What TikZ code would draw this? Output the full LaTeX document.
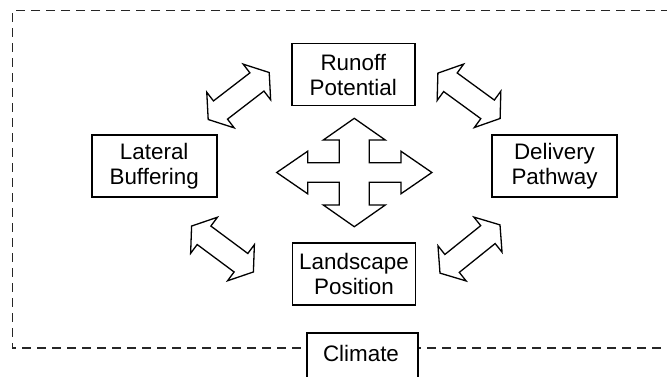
\documentclass[tikz,border=0pt]{standalone}
\usepackage{fontspec}
\setmainfont{Liberation Sans}
\tikzset{
  box/.style={draw, line width=1.8pt, minimum width=123pt, minimum height=62pt,
    align=center, inner sep=0pt, fill=white, font=\fontsize{22.4}{25}\selectfont},
  label text/.style={inner sep=0pt, font=\fontsize{22.4}{25}\selectfont},
  blockarrow/.style={draw, line width=1.3pt, fill=white, line join=miter},
  frame/.style={line width=1.2pt, dash pattern=on 9pt off 6pt, black!85},
  pics/dblarrow/.style={code={
    \draw[blockarrow] (38.5,0) -- (23,22.5) -- (23,11.5) -- (-23,11.5)
      -- (-23,22.5) -- (-38.5,0) -- (-23,-22.5) -- (-23,-11.5)
      -- (23,-11.5) -- (23,-22.5) -- cycle;}}
}
\begin{document}
\begin{tikzpicture}[x=1pt,y=-1pt]
\useasboundingbox (0,0) rectangle (667,376);
\clip (0,0) rectangle (667,376);

% dashed system boundary, open to the right
\draw[frame] (700,10.7) -- (12.3,10.7) -- (12.3,348) -- (700,348);

% factor boxes
\node[box] (runoff) at (353.3,74.5) {Runoff\\Potential};
\node[box, minimum width=125pt] (lateral) at (154.2,166) {Lateral\\Buffering};
\node[box, minimum width=125pt] (delivery) at (554.5,166.3) {Delivery\\Pathway};
\node[box] (landscape) at (354,274) {Landscape\\Position};

% climate box, running off the lower edge
\draw[line width=1.8pt, fill=white] (307.3,395) -- (307.3,333.3) -- (417.7,333.3) -- (417.7,395);
\node[label text] (climate) at (361,353) {Climate};

% diagonal two-headed block arrows
\pic[rotate=37.6]  at (238.7,96)  {dblarrow};
\pic[rotate=-36.1] at (469,95.8)  {dblarrow};
\pic[rotate=-36.6] at (222.5,249) {dblarrow};
\pic[rotate=38.8]  at (470,249)   {dblarrow};

% central four-way arrow
\begin{scope}[shift={(354.3,172.5)}]
\draw[blockarrow] (0,-54.2) -- (31,-32.5) -- (15,-32.5) -- (15,-9.7)
  -- (46.6,-9.7) -- (46.6,-21.3) -- (77.6,0) -- (46.6,21.3) -- (46.6,9.7)
  -- (15,9.7) -- (15,32.5) -- (31,32.5) -- (0,54.2) -- (-31,32.5)
  -- (-15,32.5) -- (-15,9.7) -- (-46.6,9.7) -- (-46.6,21.3) -- (-77.6,0)
  -- (-46.6,-21.3) -- (-46.6,-9.7) -- (-15,-9.7) -- (-15,-32.5)
  -- (-31,-32.5) -- cycle;
\end{scope}
\end{tikzpicture}
\end{document}
